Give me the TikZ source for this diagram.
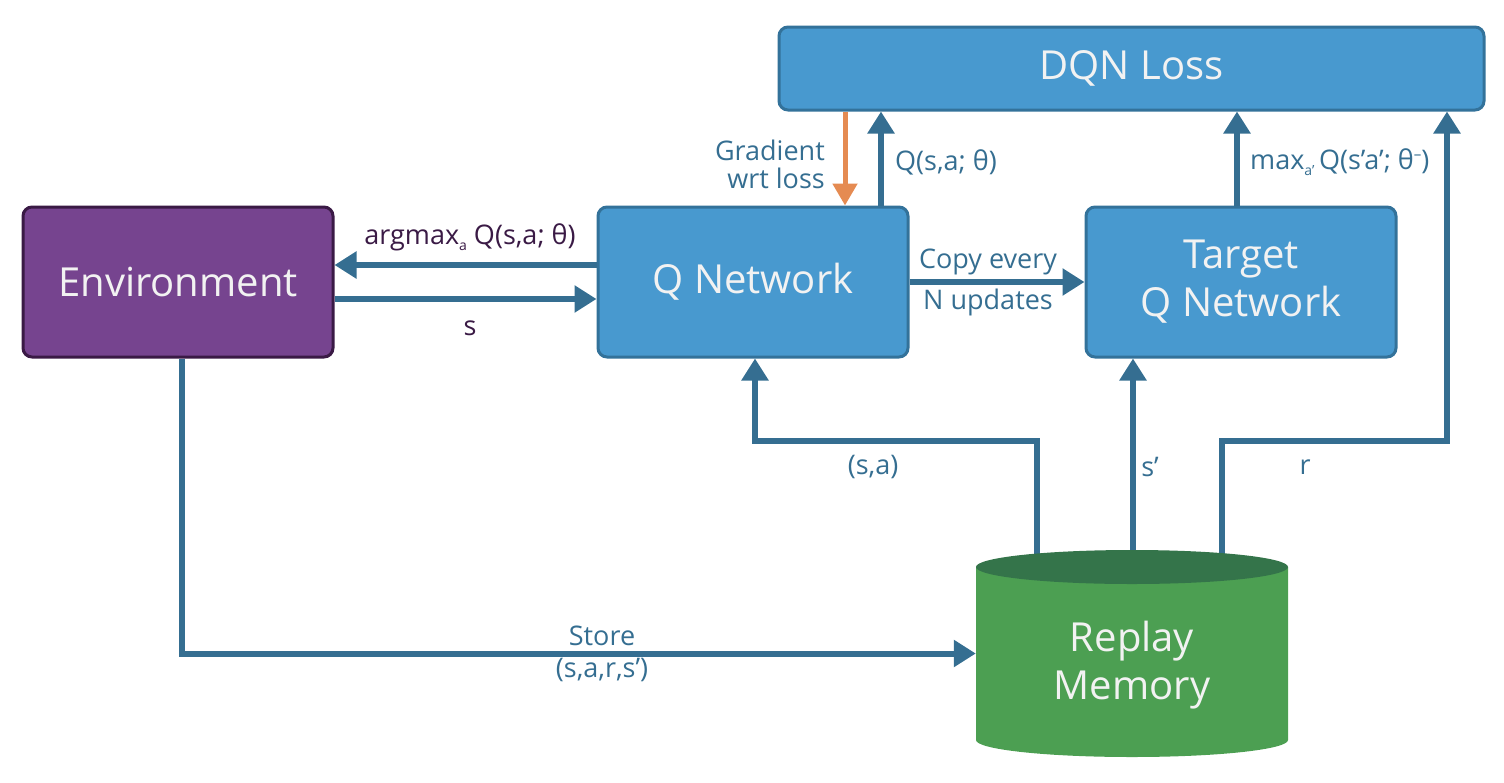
\documentclass[tikz,border=0pt]{standalone}
\usepackage{fontspec}
\setmainfont{Open Sans}
\usetikzlibrary{arrows.meta}
\definecolor{boxblue}{HTML}{4899CF}
\definecolor{boxline}{HTML}{33729A}
\definecolor{arrowblue}{HTML}{356E91}
\definecolor{envfill}{HTML}{76448F}
\definecolor{envline}{HTML}{3A1A45}
\definecolor{memfill}{HTML}{4C9F52}
\definecolor{memtop}{HTML}{34744A}
\definecolor{gradorange}{HTML}{E58B52}
\definecolor{boxtext}{HTML}{F2F2F2}
\definecolor{darklabel}{HTML}{3A1A45}
\newcommand\mybigfont{\fontsize{40}{48}\selectfont}
\newcommand\mylblfont{\fontsize{27}{28}\selectfont}
\newcommand\mysub[1]{\raisebox{-6pt}{\fontsize{14}{14}\selectfont #1}}
\begin{document}
\begin{tikzpicture}[x=1pt,y=-1pt,
  box/.style={rectangle, rounded corners=9pt, minimum width=310pt, minimum height=150pt,
    inner sep=0pt, line width=3pt, draw=boxline, fill=boxblue, text=boxtext,
    font=\mybigfont, align=center},
  conn/.style={line width=6pt, draw=arrowblue, -{Triangle[length=22pt,width=26pt]}},
  lbl/.style={font=\mylblfont, text=arrowblue, inner sep=0pt, align=center},
  dlbl/.style={lbl, text=darklabel}]
\useasboundingbox (0,0) rectangle (1504,782);

% boxes
\node[box, minimum width=705pt, minimum height=83pt] (loss) at (1131.5,68.5) {\raisebox{-2pt}{DQN Loss}};
\node[box, fill=envfill, draw=envline] (env) at (178,282) {\raisebox{-2pt}{Environment}};
\node[box] (qnet) at (753,282) {\raisebox{-2pt}{Q Network}};
\node[box] (tnet) at (1241,282) {\raisebox{-3pt}{Target}\\\raisebox{-3pt}{Q Network}};

% memory frame (invisible node) and coordinates
\node[minimum width=312pt, minimum height=207pt, inner sep=0pt] (mem) at (1132,653.5) {};
\coordinate (memA) at (1037,560);
\coordinate (memB) at (1133,560);
\coordinate (memC) at (1222,560);
\coordinate (bus) at (0,441);
\coordinate (rx) at (1447,0);

% connectors
\draw[conn] ([yshift=17pt]qnet.west) -- ([yshift=17pt]env.east);
\draw[conn] ([yshift=-17pt]env.east) -- ([yshift=-17pt]qnet.west);
\draw[conn] (qnet.east) -- (tnet.west);
\draw[conn] ([xshift=128pt]qnet.north) -- ([xshift=128pt]qnet.north |- loss.south);
\draw[line width=5pt, draw=gradorange, -{Triangle[length=22pt,width=24pt]}]
  ([xshift=92pt]qnet.north |- loss.south) -- ([xshift=92pt]qnet.north);
\draw[conn] ([xshift=-4pt]tnet.north) -- ([xshift=-4pt]tnet.north |- loss.south);
\draw[conn] (memA) -- (memA |- bus) -| ([xshift=2pt]qnet.south);
\draw[conn] (memB) -- (memB |- tnet.south);
\draw[conn] (memC) -- (memC |- bus) -| (rx |- loss.south);
\draw[conn] ([xshift=4pt]env.south) |- (mem.west);

% cylinder
\fill[memfill] (976,567) -- (976,740) arc[start angle=180, end angle=360, x radius=156, y radius=-17]
  -- (1288,567) -- cycle;
\fill[memtop] (1132,567) ellipse[x radius=156, y radius=17];
\node[font=\mybigfont, text=boxtext, align=center, inner sep=0pt] (memtext) at (1132,665) {Replay\\Memory};

% labels
\node[dlbl] (largmax) at (470,237) {argmax\mysub{a} Q(s,a; θ)};
\node[dlbl] (ls) at (470,328) {s};
\node[lbl] (lcopy) at (988,262) {Copy every};
\node[lbl] (lnup) at (988,302) {N updates};
\node[lbl, align=right, anchor=east] (lgrad) at (825,164) {Gradient\\wrt loss};
\node[lbl, anchor=west] (lq) at (895,162) {Q(s,a; θ)};
\node[lbl, anchor=west] (lmax) at (1250,162) {max\mysub{a’}\,Q(s’a’; θ\raisebox{10pt}{\fontsize{15}{15}\selectfont –})};
\node[lbl] (lsa) at (873,467) {(s,a)};
\node[lbl] (lsp) at (1150,467) {s’};
\node[lbl] (lr) at (1305,467) {r};
\node[lbl] (lstore) at (602,636) {Store};
\node[lbl] (ltuple) at (602,670) {(s,a,r,s’)};
\end{tikzpicture}
\end{document}
